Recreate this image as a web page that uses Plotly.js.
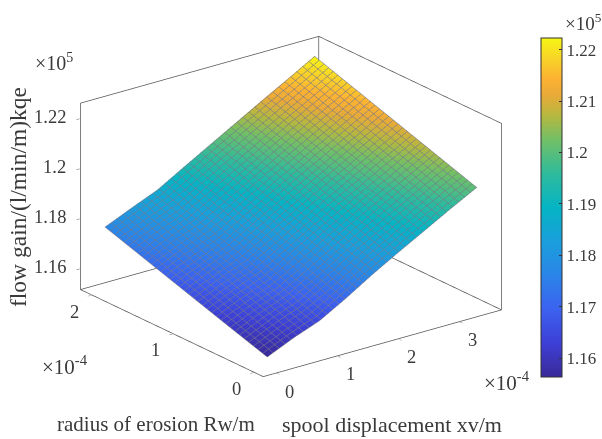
<!DOCTYPE html>
<html><head><meta charset="utf-8">
<script src="https://cdn.plot.ly/plotly-3.0.1.min.js"></script>
<style>html,body{margin:0;padding:0;background:#fff}#c{width:602px;height:439px}</style>
</head><body><div id="c"></div>
<script>
const xvValues = [0,0.43,0.86,1.29,1.72,2.15,2.58,3.0,3.43];
const rwValues = [0,0.5,1.0,1.5,2.0];
const gainRw0  = [1.1563,1.1610,1.1650,1.1710,1.1775,1.1835,1.1893,1.1950,1.2006];
const gainRw05 = [1.1615,1.1662,1.1703,1.1764,1.1828,1.1888,1.1946,1.2003,1.2060];
const gainRw10 = [1.1668,1.1715,1.1757,1.1818,1.1880,1.1940,1.1999,1.2056,1.2114];
const gainRw15 = [1.1721,1.1768,1.1810,1.1871,1.1932,1.1993,1.2052,1.2109,1.2168];
const gainRw20 = [1.1774,1.1820,1.1864,1.1925,1.1985,1.2045,1.2105,1.2162,1.2222];
const xRange = [-0.227,3.69];
const yRange = [-0.12,2.14];
const zRange = [1.1516,1.2264];
const xTicks = [0,1,2,3];
const yTicks = [0,1,2];
const zTicks = [1.16,1.18,1.20,1.22];
const zTickText = ['1.16','1.18','1.2','1.22'];
const cbTicks = [1.16,1.17,1.18,1.19,1.20,1.21,1.22];
const cbTickText = ['1.16','1.17','1.18','1.19','1.2','1.21','1.22'];
const cRange = [1.1563,1.2223];
const parula = [[0,'#3a2a98'],[0.1,'#3d3fd6'],[0.2,'#3c62f0'],[0.3,'#2b84e8'],[0.4,'#1a9fdc'],[0.5,'#05b4c4'],[0.6,'#2fbb9c'],[0.7,'#72bf66'],[0.77,'#b4b840'],[0.83,'#e8aa38'],[0.88,'#fdb232'],[0.94,'#f8d428'],[1,'#f6f614']];
const font = 'Liberation Serif';
const ink = '#3a3a3a';
const inset = 0.002;
function insetRange(r){const m=(r[1]-r[0])*inset;return [r[0]+m,r[1]-m];}
const [x0,x1]=insetRange(xRange),[y0,y1]=insetRange(yRange),[z0,z1]=insetRange(zRange);
const boxLine={color:'#555',width:1.5};
const meshLine={show:true,color:'rgba(30,30,50,0.65)',width:1};
function edge(xs,ys,zs){return {type:'scatter3d',mode:'lines',x:xs,y:ys,z:zs,line:boxLine,showlegend:false,hoverinfo:'skip'};}
const data=[
 {type:'surface',x:xvValues,y:rwValues,z:[gainRw0,gainRw05,gainRw10,gainRw15,gainRw20],
  cmin:cRange[0],cmax:cRange[1],colorscale:parula,
  lighting:{ambient:1,diffuse:0,specular:0,roughness:1,fresnel:0},
  contours:{x:Object.assign({},meshLine,{start:0,end:3.43,size:0.098}),
            y:Object.assign({},meshLine,{start:0,end:2,size:0.057}),
            z:{show:false}},
  colorbar:{x:540.5/602,xanchor:'left',xpad:0,ypad:0,y:1-207.5/439,yanchor:'middle',
    lenmode:'pixels',len:339,thicknessmode:'pixels',thickness:21,
    outlinewidth:1,outlinecolor:'#333',ticks:'inside',ticklen:3,tickcolor:'#333',
    tickvals:cbTicks,ticktext:cbTickText,tickfont:{family:font,size:17,color:ink}}
 },
 edge([x0,x1,x1,x0,x0],[y0,y0,y1,y1,y0],[z0,z0,z0,z0,z0]),
 edge([x1,x1],[y0,y0],[z0,z1]),
 edge([x1,x1],[y1,y1],[z0,z1]),
 edge([x0,x0],[y1,y1],[z0,z1]),
 edge([x0,x1,x1],[y1,y1,y0],[z1,z1,z1])
];
function axis(range,ticks){return {range:range,autorange:false,tickmode:'array',tickvals:ticks,showticklabels:false,
  showgrid:false,zeroline:false,showbackground:false,showline:false,showspikes:false,ticks:'outside',ticklen:4,tickcolor:'#555',title:{text:''}};}
function tickNote(x,y,z,text,dx,dy,anchor){return {x:x,y:y,z:z,text:text,showarrow:false,xshift:dx,yshift:dy,xanchor:anchor||'center',yanchor:'middle',
  font:{family:font,size:18.5,color:ink}};}
const sceneNotes=[
 ...xTicks.map(v=>tickNote(v,y0,z0,String(v),13,-19)),
 ...yTicks.map(v=>tickNote(x0,v,z0,String(v),-17,-17)),
 ...zTicks.map((v,i)=>tickNote(x0,y1,v,zTickText[i],-13,2,'right'))
];
const d=1.75;
const k=1.46;
const layout={width:602,height:439,margin:{l:0,r:0,t:0,b:0,autoexpand:false},paper_bgcolor:'#fff',showlegend:false,
 scene:{domain:{x:[0,0.967],y:[0.06,1]},
   aspectmode:'manual',aspectratio:{x:k,y:k,z:0.667*k},
   camera:{projection:{type:'orthographic'},eye:{x:-0.566*d,y:-0.738*d,z:0.365*d},center:{x:0,y:0,z:0},up:{x:0,y:0,z:1}},
   xaxis:axis(xRange,xTicks),yaxis:axis(yRange,yTicks),zaxis:axis(zRange,zTicks),annotations:sceneNotes},
 annotations:[
  {text:'×10<sup>5</sup>',x:33,y:62,size:20},
  {text:'×10<sup>5</sup>',x:563,y:22,size:19},
  {text:'×10<sup>-4</sup>',x:40,y:365,size:21},
  {text:'×10<sup>-4</sup>',x:482,y:381,size:21},
  {text:'radius of erosion Rw/m',x:55,y:424,size:21},
  {text:'spool displacement xv/m',x:280,y:424,size:22},
  {text:'flow gain/(l/min/m)kqe',x:18,y:197,size:23.5,rot:-90}
 ].map(a=>({text:a.text,xref:'paper',yref:'paper',x:a.x/602,y:1-a.y/439,xanchor:a.rot?'center':'left',yanchor:'middle',
   showarrow:false,textangle:a.rot||0,font:{family:font,size:a.size,color:ink}}))
};
Plotly.newPlot('c',data,layout,{displayModeBar:false}).catch(e=>{document.title='err '+e;console.error(e)});
</script></body></html>
